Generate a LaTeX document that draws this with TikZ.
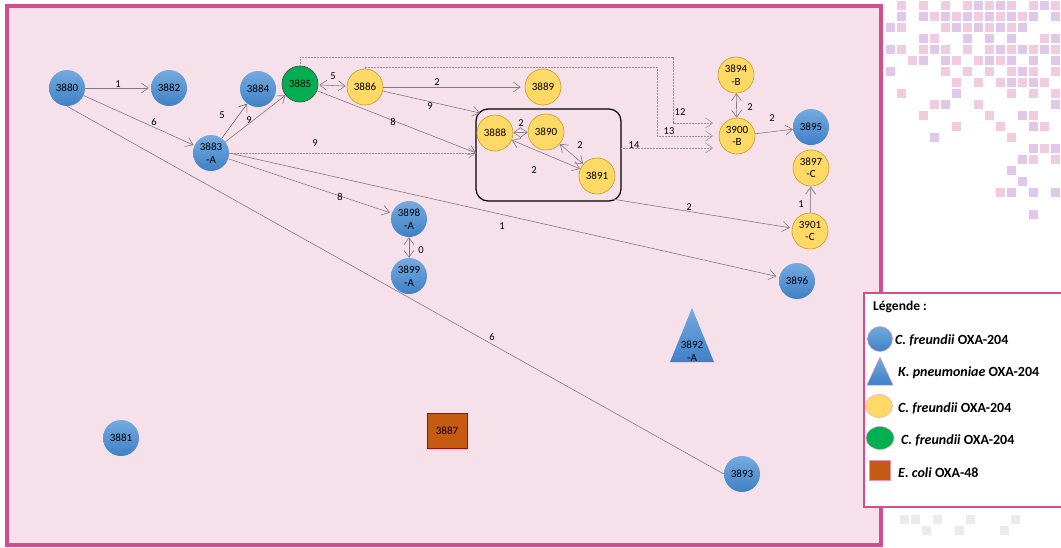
\documentclass[tikz,border=0pt]{standalone}
\usepackage{fontspec}
\setmainfont{Carlito}
\usetikzlibrary{arrows.meta,shapes.geometric,calc}
\definecolor{framec}{HTML}{D04F8C}
\definecolor{bgpink}{HTML}{F6E1EB}
\definecolor{bluetop}{HTML}{74ABDF}
\definecolor{bluebot}{HTML}{3F80C6}
\definecolor{yel}{HTML}{FFD966}
\definecolor{yelb}{HTML}{C49A2A}
\definecolor{grn}{HTML}{00B050}
\definecolor{brn}{HTML}{C55A11}
\definecolor{edgec}{HTML}{857880}
\definecolor{lav}{HTML}{D7B5E2}
\definecolor{pnk}{HTML}{E9A9CB}
\tikzset{
  base/.style={circle, minimum size=36pt, inner sep=0pt, align=center, text=black,
    font=\fontsize{11}{12.5}\selectfont},
  bnode/.style={base, top color=bluetop, bottom color=bluebot, draw=none},
  ynode/.style={base, fill=yel, draw=yelb, line width=0.6pt},
  gnode/.style={base, fill=grn, draw=black!75, line width=0.6pt},
  conn/.style={draw=edgec, line width=0.6pt},
  dotc/.style={draw=edgec!80, line width=0.6pt, dash pattern=on 1pt off 0.5pt},
  arr/.style={-{Straight Barb[length=7pt,width=10pt]}},
  darr/.style={{Straight Barb[length=7pt,width=10pt]}-{Straight Barb[length=7pt,width=10pt]}},
  lab/.style={font=\fontsize{10.5}{12}\selectfont, inner sep=0pt, text=black},
  legt/.style={font=\fontsize{14}{16}\selectfont\bfseries, anchor=west, inner sep=0pt}
}
\begin{document}
\begin{tikzpicture}[x=1pt,y=-1pt]
\useasboundingbox (0,0) rectangle (1061,547);
\fill[white] (0,0) rectangle (1061,547);
% decorative mosaic
\pgfmathsetseed{11}
\foreach \i in {0,...,15}{
  \foreach \j in {0,...,26}{
    \pgfmathsetmacro\xx{886+11*\i}
    \pgfmathsetmacro\yy{1+11*\j}
    \pgfmathsetmacro\pp{0.95-0.045*\j-0.03*(15-\i)}
    \pgfmathsetmacro\rr{rnd}
    \ifdim\rr pt<\pp pt
      \pgfmathsetmacro\cc{mod(\i+\j,2)==0 ? 1 : 0}
      \ifdim\cc pt>0.5pt
        \fill[lav, opacity=0.75] (\xx,\yy) rectangle ++(9,9);
      \else
        \fill[pnk, opacity=0.6] (\xx,\yy) rectangle ++(9,9);
      \fi
    \fi
  }
}
\foreach \xx/\yy in {900/515,911/515,922/526,933/515,955/526,966/515,1000/526,1011/515}{
  \fill[black!8] (\xx,\yy) rectangle ++(9,9);
}
% main frame
\draw[framec, line width=4pt, fill=bgpink] (7,6) rectangle (881,545);

% nodes
\node[bnode] (n3880) at (67,88) {3880};
\node[bnode] (n3882) at (169,88) {3882};
\node[bnode] (n3884) at (258,89) {3884};
\node[gnode] (n3885) at (300,84) {3885};
\node[bnode] (n3883) at (211,153) {3883\\-A};
\node[ynode] (n3886) at (365,87) {3886};
\node[ynode] (n3889) at (543,87) {3889};
\node[draw=black, line width=1.2pt, rounded corners=12pt, minimum width=145pt, minimum height=92pt] (grp) at (548.5,155) {};
\node[ynode] (n3888) at (495,133) {3888};
\node[ynode] (n3890) at (546,132) {3890};
\node[ynode] (n3891) at (597,176) {3891};
\node[ynode] (n3894) at (736,75) {3894\\-B};
\node[ynode] (n3900) at (737,136) {3900\\-B};
\node[bnode] (n3895) at (811,127) {3895};
\node[ynode] (n3897) at (811,168) {3897\\-C};
\node[ynode] (n3901) at (810,231) {3901\\-C};
\node[bnode] (n3898) at (409,219) {3898\\-A};
\node[bnode] (n3899) at (409,276) {3899\\-A};
\node[bnode] (n3896) at (797,281) {3896};
\node[bnode] (n3893) at (742,474) {3893};
\node[bnode] (n3881) at (121,438) {3881};
\node[draw=red!75!black, fill=brn, line width=0.6pt, minimum width=40pt, minimum height=35pt, inner sep=0pt,
  font=\fontsize{11}{12.5}\selectfont] (n3887) at (447,431) {3887};
\shade[top color=bluetop, bottom color=bluebot] (692,308) -- (714,362) -- (670,362) -- cycle;
\node[align=center, font=\fontsize{11}{12.5}\selectfont, inner sep=0pt] (n3892) at (692,351) {3892\\-A};

% connection end points
\coordinate (e12) at (713,123);
\coordinate (e13) at (713,136);
\coordinate (e14) at (713,148);
\coordinate (g14) at (621,148);
\coordinate (gnw) at (480,113);
\coordinate (gse) at (612,199);
\coordinate (gw) at (476,153);

% edges
\draw[conn, arr, shorten >=2pt] (n3880) -- (n3882);
\draw[conn, arr, shorten >=1pt] (n3880) -- (n3883);
\draw[conn] (n3880.south) -- (n3893.west);
\draw[conn, draw=black!60, arr] (n3883) -- (n3884);
\draw[conn, arr] (n3883) -- (n3885);
\draw[dotc, arr] (n3883.east) -- (gw);
\draw[conn, arr, shorten >=2pt] (n3883) -- (n3898);
\draw[conn, arr, shorten >=3pt] (n3883.east) -- (n3896);
\draw[conn, darr, shorten <=1pt, shorten >=1pt] (n3885) -- (n3886);
\draw[conn, arr] (n3885) -- (gw);
\draw[conn, arr] (n3886) -- (gnw);
\draw[conn, arr, shorten >=4pt] (n3886) -- (n3889);
\draw[conn, darr] (n3888) -- (n3890);
\draw[conn, darr] (n3890) -- (n3891);
\draw[conn, darr] (n3888) -- (n3891);
\draw[dotc, arr] (n3885.north) |- (673,57) |- (e12);
\draw[dotc, arr] (n3886.north) |- (657,67) |- (e13);
\draw[dotc, arr] (g14) -- (e14);
\draw[conn, darr] (n3894) -- (n3900);
\draw[conn, arr] (n3900) -- (n3895);
\draw[conn, arr, shorten >=2pt] (gse) -- (n3901);
\draw[conn, draw=edgec!80, line width=1pt, arr] (n3901) -- (n3897);
\draw[conn, darr] (n3898) -- (n3899);

% edge labels
\node[lab] (l1) at (118,84) {1};
\node[lab] (l2) at (154,122) {6};
\node[lab] (l3) at (222,115) {5};
\node[lab] (l4) at (249,120) {9};
\node[lab] (l5) at (315,143) {9};
\node[lab] (l6) at (340,197) {8};
\node[lab] (l7) at (502,226) {1};
\node[lab] (l8) at (492,337) {6};
\node[lab] (l9) at (333,76) {5};
\node[lab] (l10) at (393,122) {8};
\node[lab] (l11) at (430,106) {9};
\node[lab] (l12) at (437,82) {2};
\node[lab] (l13) at (521,123) {2};
\node[lab] (l14) at (580,145) {2};
\node[lab] (l15) at (534,170) {2};
\node[lab] (l16) at (680,112) {12};
\node[lab] (l17) at (669,131) {13};
\node[lab] (l18) at (634,145) {14};
\node[lab] (l19) at (750,107) {2};
\node[lab] (l20) at (772,118) {2};
\node[lab] (l21) at (689,207) {2};
\node[lab] (l22) at (801,204) {1};
\node[lab] (l23) at (421,250) {0};

% legend
\draw[framec, line width=1.2pt, fill=white] (864,293) rectangle (1066,507);
\node[legt, font=\fontsize{13.5}{15}\selectfont\bfseries] (lt) at (873,307) {Légende :};
\node[circle, minimum size=25pt, inner sep=0pt, top color=bluetop, bottom color=bluebot, draw=framec!60, line width=0.5pt] (k1) at (880,339) {};
\node[legt] (k1t) at (895,340) {\textit{C. freundii} OXA-204};
\shade[top color=bluetop, bottom color=bluebot, draw=framec!60, line width=0.5pt] (880,357) -- (893,385) -- (867,385) -- cycle;
\node[legt] (k2t) at (898,373) {\textit{K. pneumoniae} OXA-204};
\node[ellipse, minimum width=27pt, minimum height=23pt, inner sep=0pt, fill=yel, draw=framec!50, line width=0.5pt] (k3) at (879,406) {};
\node[legt] (k3t) at (898,408) {\textit{C. freundii} OXA-204};
\node[ellipse, minimum width=28pt, minimum height=23pt, inner sep=0pt, fill=grn, draw=framec!50, line width=0.5pt] (k4) at (880,438) {};
\node[legt] (k4t) at (901,440) {\textit{C. freundii} OXA-204};
\node[rectangle, minimum width=21pt, minimum height=20pt, inner sep=0pt, fill=brn, draw=framec!60, line width=0.5pt] (k5) at (880,470) {};
\node[legt] (k5t) at (898,473) {\textit{E. coli} OXA-48};
\end{tikzpicture}
\end{document}
